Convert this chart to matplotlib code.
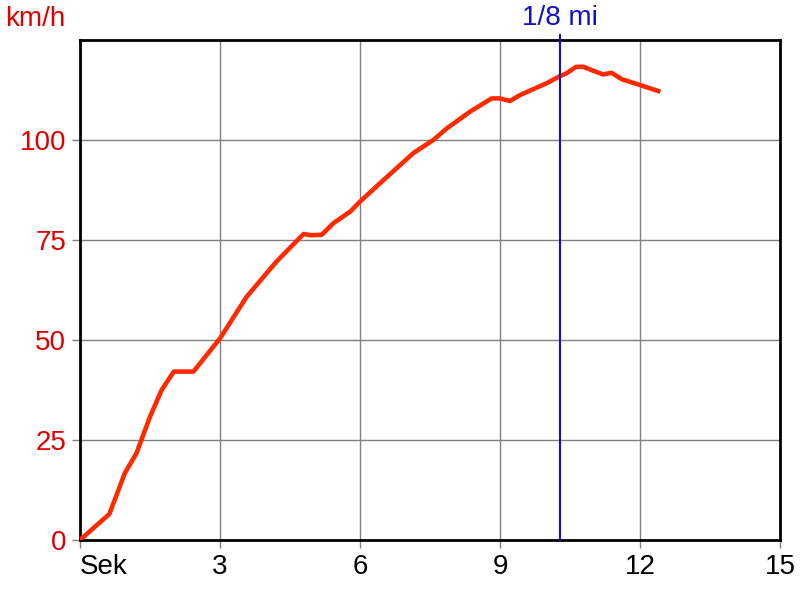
import numpy as np
import matplotlib
matplotlib.use('Agg')
import matplotlib.pyplot as plt

plt.rcParams['font.family'] = ['Liberation Sans', 'DejaVu Sans']

# time in seconds, speed in km/h
t_sec = [0.0, 0.63, 0.96, 1.21, 1.5, 1.75, 2.01, 2.43, 3.0, 3.57, 4.21, 4.79,
         4.95, 5.18, 5.43, 5.79, 6.0, 6.43, 7.14, 7.57, 7.86, 8.36, 8.82, 9.0,
         9.21, 9.43, 10.0, 10.29, 10.43, 10.63, 10.79, 11.0, 11.21, 11.39,
         11.61, 12.0, 12.39]
speed = [0.0, 6.5, 16.7, 21.7, 30.8, 37.5, 42.1, 42.1, 50.4, 60.8, 69.6, 76.5,
         76.2, 76.3, 79.2, 82.1, 84.6, 89.2, 96.7, 100.0, 102.9, 107.1, 110.4,
         110.4, 109.75, 111.25, 114.2, 116.0, 116.7, 118.3, 118.3, 117.3,
         116.4, 116.8, 115.2, 113.75, 112.25]

marker_t = 10.29  # 1/8 mile
x_ticks = [0, 3, 6, 9, 12, 15]
x_labels = ['Sek', '3', '6', '9', '12', '15']
y_ticks = [0, 25, 50, 75, 100]

fig = plt.figure(figsize=(8, 6), dpi=100)
ax = fig.add_axes([0.1, 0.1, 0.875, 0.8333])

ax.plot(t_sec, speed, color='#ff2a00', lw=3.3, solid_joinstyle='round', zorder=3)
ax.axvline(marker_t, ymin=0, ymax=1.01, color='#1010c8', lw=1.5, clip_on=False, zorder=4)
ax.text(marker_t, 130.5, '1/8 mi', color='#1010c8', fontsize=20, ha='center', va='center')
fig.text(0.006, 0.968, 'km/h', color='#e00000', fontsize=20, ha='left', va='center')

ax.set_xlim(0, 15)
ax.set_ylim(0, 125)
ax.set_xticks(x_ticks)
ax.set_xticklabels(x_labels)
ax.set_yticks(y_ticks)
ax.grid(True, color='#808080', lw=1)
ax.set_axisbelow(True)

for s in ax.spines.values():
    s.set_linewidth(2)
    s.set_color('black')

ax.tick_params(axis='x', length=6, width=1, color='#808080', labelsize=20, pad=4)
ax.tick_params(axis='y', length=6, width=1, color='#808080', labelsize=20, labelcolor='#e00000', pad=4)
ax.get_xticklabels()[0].set_horizontalalignment('left')

fig.savefig('out.png', dpi=100)
